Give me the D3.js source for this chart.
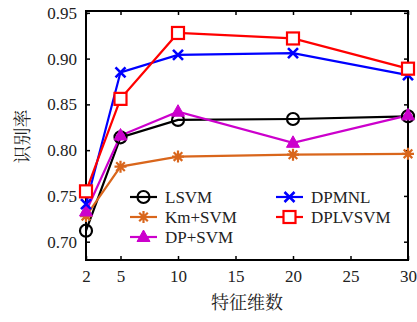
<!DOCTYPE html>
<html><head><meta charset="utf-8">
<script src="https://cdn.jsdelivr.net/npm/d3@7"></script>
<style>
html,body{margin:0;padding:0;background:#fff;}
svg{display:block;}
</style></head>
<body><svg id="c" width="417" height="322"></svg>
<script>
const dims = [2, 5, 10, 20, 30];
const xTicks = [2, 5, 10, 15, 20, 25, 30];
const yTicks = [0.70, 0.75, 0.80, 0.85, 0.90, 0.95];
const seriesNames = ["LSVM", "Km+SVM", "DP+SVM", "DPMNL", "DPLVSVM"];
const lsvm    = [0.712, 0.814, 0.833, 0.834, 0.837];
const kmsvm   = [0.728, 0.782, 0.793, 0.795, 0.796];
const dpsvm   = [0.733, 0.816, 0.842, 0.808, 0.838];
const dpmnl   = [0.741, 0.885, 0.904, 0.906, 0.882];
const dplvsvm = [0.755, 0.856, 0.928, 0.922, 0.889];
const xTitle = "特征维数";
const yTitle = "识别率";

const series = [
  {name: seriesNames[0], values: lsvm,    color: "#000000", marker: "circle"},
  {name: seriesNames[1], values: kmsvm,   color: "#d9661c", marker: "star"},
  {name: seriesNames[2], values: dpsvm,   color: "#cc00cc", marker: "triangle"},
  {name: seriesNames[3], values: dpmnl,   color: "#0000ff", marker: "x"},
  {name: seriesNames[4], values: dplvsvm, color: "#ff0000", marker: "square"}
];

const SERIF = '"Liberation Serif", serif';
const CJK = '"Noto Serif CJK SC"';

const L = 86, R = 408, T = 11, B = 260;
const x = d3.scaleLinear().domain([2, 30]).range([L, R]);
const y = d3.scaleLinear().domain([0.68, 0.952]).range([B, T]);
const svg = d3.select("#c").style("font-family", SERIF);

function drawMarker(g, type, color, cx, cy) {
  const m = g.append("g").attr("transform", `translate(${cx},${cy})`);
  if (type === "circle") {
    m.append("circle").attr("r", 6).attr("fill", "none").attr("stroke", color).attr("stroke-width", 2.2);
  } else if (type === "square") {
    m.append("rect").attr("x", -6).attr("y", -6).attr("width", 12).attr("height", 12)
      .attr("fill", "#fff").attr("stroke", color).attr("stroke-width", 2.2);
  } else if (type === "triangle") {
    m.append("path").attr("d", "M0,-7L6.5,4.5L-6.5,4.5Z").attr("fill", color).attr("stroke", color).attr("stroke-width", 1);
  } else if (type === "x") {
    m.append("path").attr("d", "M-5,-5L5,5M-5,5L5,-5").attr("stroke", color).attr("stroke-width", 2.6);
  } else if (type === "star") {
    m.append("path").attr("d", "M-6,0L6,0M0,-6L0,6M-4.3,-4.3L4.3,4.3M-4.3,4.3L4.3,-4.3")
      .attr("stroke", color).attr("stroke-width", 2.2);
  }
}

// axes
const gx = svg.append("g").attr("transform", `translate(0,${B})`)
  .call(d3.axisBottom(x).tickValues(xTicks).tickSize(-4).tickPadding(10).tickFormat(d3.format("d")));
const gxt = svg.append("g").attr("transform", `translate(0,${T})`)
  .call(d3.axisTop(x).tickValues(xTicks).tickSize(-4).tickFormat(""));
const gy = svg.append("g").attr("transform", `translate(${L},0)`)
  .call(d3.axisLeft(y).tickValues(yTicks).tickSize(-4).tickPadding(9).tickFormat(d3.format(".2f")));
const gyr = svg.append("g").attr("transform", `translate(${R},0)`)
  .call(d3.axisRight(y).tickValues(yTicks).tickSize(-4).tickFormat(""));
[gx, gxt, gy, gyr].forEach(g => {
  g.attr("font-family", null).attr("font-size", null);
  g.select(".domain").remove();
  g.selectAll(".tick line").attr("stroke", "#000").attr("stroke-width", 1.5);
  g.selectAll(".tick text").style("font-family", SERIF).style("font-size", "17px").attr("fill", "#222");
});
gx.selectAll(".tick text").attr("dy", "0.71em");

// frame
svg.append("rect").attr("x", L).attr("y", T).attr("width", R - L).attr("height", B - T)
  .attr("fill", "none").attr("stroke", "#000").attr("stroke-width", 2);

// series
const line = d3.line().x((d, i) => x(dims[i])).y(d => y(d));
series.forEach(s => {
  svg.append("path").datum(s.values).attr("d", line).attr("fill", "none")
    .attr("stroke", s.color).attr("stroke-width", 2.2);
});
series.forEach(s => {
  const g = svg.append("g");
  s.values.forEach((v, i) => drawMarker(g, s.marker, s.color, x(dims[i]), y(v)));
});

// legend
const legendPos = [
  {lx: 130, ly: 197}, {lx: 130, ly: 217}, {lx: 130, ly: 237},
  {lx: 276, ly: 197}, {lx: 276, ly: 217}
];
series.forEach((s, i) => {
  const p = legendPos[i];
  const g = svg.append("g");
  g.append("line").attr("x1", p.lx).attr("x2", p.lx + 27).attr("y1", p.ly).attr("y2", p.ly)
    .attr("stroke", s.color).attr("stroke-width", 2.2);
  drawMarker(g, s.marker, s.color, p.lx + 13.5, p.ly);
  g.append("text").attr("x", p.lx + 35).attr("y", p.ly).attr("dy", "0.35em")
    .style("font-family", SERIF).style("font-size", "17px").attr("fill", "#222").text(s.name);
});

// titles
svg.append("text").attr("x", (L + R) / 2).attr("y", 309).attr("text-anchor", "middle")
  .style("font-family", CJK).style("font-size", "18px").attr("fill", "#222").text(xTitle);
svg.append("text").attr("transform", `translate(29,${(T + B) / 2 + 1}) rotate(-90)`)
  .attr("text-anchor", "middle")
  .style("font-family", CJK).style("font-size", "18px").attr("fill", "#222").text(yTitle);
</script></body></html>
